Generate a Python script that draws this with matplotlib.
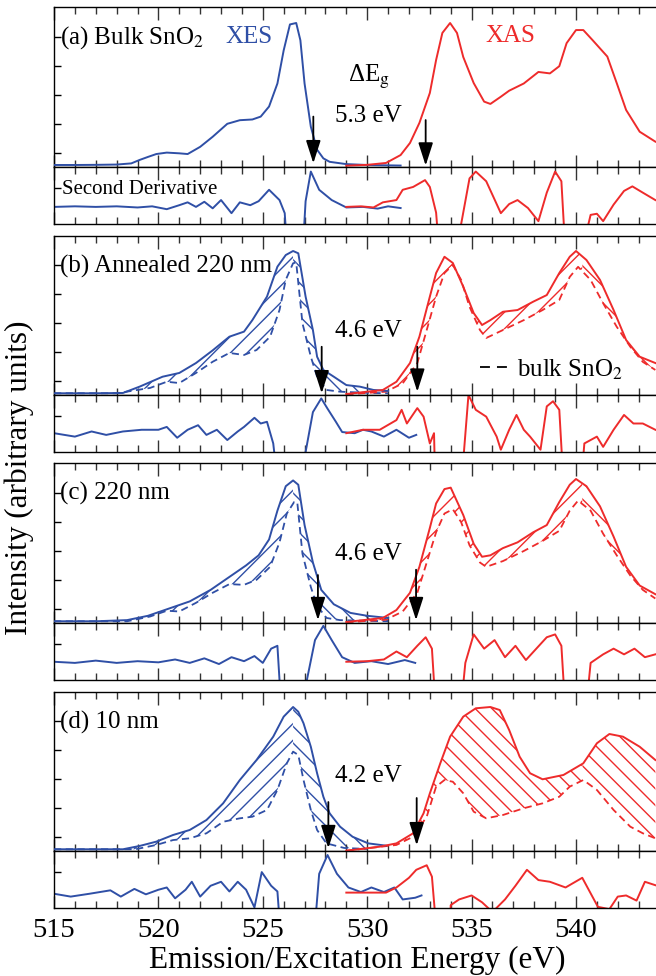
import numpy as np
import matplotlib.pyplot as plt

plt.rcParams['font.family'] = ['Liberation Serif', 'DejaVu Serif']
plt.rcParams['mathtext.fontset'] = 'stix'
plt.rcParams['hatch.linewidth'] = 1.0

BLUE = '#2f4fa6'
RED = '#ee2b2b'

# ---------------- (a) bulk SnO2 ----------------
xes_a_e = [515, 516, 517, 518, 518.7, 519.1, 519.5, 519.9, 520.4, 521.0, 521.4, 522.0, 522.6, 523.3,
           523.9, 524.5, 524.9, 525.3, 525.7, 526.0, 526.3, 526.6, 526.8, 527.0, 527.3, 527.6, 527.9,
           528.2, 529.0, 530.0, 531.6]
xes_a_i = [0.014, 0.014, 0.015, 0.017, 0.025, 0.049, 0.07, 0.09, 0.10, 0.095, 0.09, 0.14, 0.21, 0.30,
           0.325, 0.33, 0.35, 0.42, 0.58, 0.81, 0.99, 1.0, 0.88, 0.58, 0.28, 0.12, 0.06, 0.036, 0.02,
           0.014, 0.01]
xas_a_e = [529.0, 530.0, 530.9, 531.6, 532.05, 532.5, 533.0, 533.3, 533.6, 533.97, 534.3, 534.6, 535.1,
           535.6, 535.9, 536.4, 536.8, 537.5, 538.2, 538.75, 539.2, 539.55, 540.0, 540.35, 540.8, 541.5,
           541.95, 542.4, 543.05, 543.8]
xas_a_i = [0.009, 0.015, 0.028, 0.083, 0.167, 0.306, 0.514, 0.743, 0.931, 1.0, 0.931, 0.764, 0.583, 0.454,
           0.438, 0.488, 0.53, 0.58, 0.66, 0.65, 0.70, 0.86, 0.951, 0.951, 0.88, 0.767, 0.583, 0.396,
           0.245, 0.176]
dxes_a_e = [515, 516, 517, 518, 519, 519.7, 520.4, 521.0, 521.4, 521.8, 522.2, 522.6, 523.0, 523.5, 523.9,
            524.4, 524.8, 525.3, 525.8, 526.05, 526.3, 526.8, 527.05, 527.3, 527.7, 528.3, 529.0, 529.8,
            530.5, 531.0, 531.6]
dxes_a_d = [0.30, 0.31, 0.30, 0.31, 0.29, 0.31, 0.26, 0.33, 0.38, 0.30, 0.39, 0.275, 0.42, 0.19, 0.38,
            0.33, 0.40, 0.60, 0.42, 0.19, -1.2, -1.2, 0.40, 0.92, 0.60, 0.42, 0.29, 0.30, 0.27, 0.31, 0.28]
dxas_a_e = [529.0, 529.7, 530.3, 530.75, 531.4, 531.7, 532.2, 532.77, 533.0, 533.3, 533.6, 534.2, 534.5,
            534.9, 535.2, 535.7, 536.4, 536.8, 537.2, 537.7, 538.2, 538.6, 539.0, 539.3, 539.6, 540.0,
            540.4, 540.7, 541.0, 541.3, 541.8, 542.3, 542.7, 543.2, 543.8]
dxas_a_d = [0.30, 0.31, 0.29, 0.38, 0.42, 0.60, 0.65, 0.77, 0.65, 0.2, -1.2, -1.2, 0.0, 0.80, 0.92, 0.75,
            0.19, 0.35, 0.42, 0.28, 0.05, 0.55, 0.92, 0.75, -1.2, -1.2, -0.3, 0.16, 0.18, 0.05, 0.34,
            0.58, 0.66, 0.55, 0.42]

# ---------------- (b) annealed 220 nm ----------------
xes_b_e = [515, 517, 518.3, 519.1, 520.2, 521.0, 521.8, 522.6, 523.4, 524.1, 524.5, 525.2, 525.7, 526.1,
           526.45, 526.7, 527.05, 527.4, 527.6, 527.9, 528.4, 529.0, 529.65, 530.3, 531.0]
xes_b_i = [0.012, 0.012, 0.014, 0.058, 0.127, 0.153, 0.222, 0.31, 0.405, 0.44, 0.52, 0.683, 0.891, 0.972,
           1.0, 0.984, 0.683, 0.451, 0.266, 0.174, 0.127, 0.069, 0.058, 0.035, 0.028]
xes_b_ref_e = [515, 518, 519.6, 520.4, 521.0, 521.8, 522.6, 523.4, 524.1, 524.7, 525.35, 525.8, 526.1,
               526.45, 526.6, 526.9, 527.3, 527.6, 528.05, 528.7, 530.0, 531.0]
xes_b_ref_i = [0.012, 0.012, 0.049, 0.092, 0.083, 0.153, 0.231, 0.292, 0.278, 0.3125, 0.405, 0.59, 0.80,
               0.915, 0.92, 0.498, 0.266, 0.127, 0.035, 0.023, 0.015, 0.012]
xas_b_e = [529.0, 530.75, 531.4, 532.05, 532.5, 533.0, 533.3, 533.7, 534.1, 534.6, 535.1, 535.5, 535.9,
           536.5, 537.2, 537.95, 538.6, 539.2, 539.7, 540.0, 540.5, 541.15, 541.8, 542.4, 543.05, 543.8]
xas_b_i = [0.007, 0.035, 0.092, 0.222, 0.405, 0.683, 0.847, 0.96, 0.917, 0.752, 0.569, 0.486, 0.52,
           0.578, 0.59, 0.648, 0.694, 0.847, 0.96, 1.0, 0.9375, 0.799, 0.59, 0.382, 0.266, 0.222]
xas_b_ref_e = [529.0, 530.9, 531.7, 532.4, 532.85, 533.3, 533.7, 534.1, 534.5, 534.9, 535.4, 535.7, 536.5,
               537.5, 538.4, 539.2, 539.7, 540.1, 540.7, 541.3, 541.95, 542.6, 543.2, 543.8]
xas_b_ref_i = [0.005, 0.023, 0.081, 0.222, 0.451, 0.683, 0.847, 0.903, 0.799, 0.613, 0.451, 0.396, 0.451,
               0.52, 0.59, 0.66, 0.82, 0.89, 0.799, 0.637, 0.474, 0.335, 0.23, 0.174]
dxes_b_e = [515, 515.5, 516.0, 516.8, 517.5, 518.3, 519.2, 520.0, 520.4, 520.9, 521.4, 521.9, 522.3, 522.8,
            523.3, 523.8, 524.1, 524.6, 524.9, 525.2, 525.5, 525.7, 526.0, 526.6, 526.9, 527.4, 527.8,
            528.1, 528.5, 528.8, 529.4, 529.8, 530.2, 530.8, 531.4, 532.0, 532.35]
dxes_b_d = [0.33, 0.30, 0.27, 0.36, 0.30, 0.36, 0.39, 0.39, 0.44, 0.25, 0.39, 0.47, 0.30, 0.39, 0.21, 0.36,
            0.44, 0.60, 0.50, 0.53, 0.15, -0.5, -1.2, -1.2, -0.3, 0.7, 0.94, 0.76, 0.53, 0.35, 0.33, 0.39,
            0.36, 0.27, 0.39, 0.25, 0.30]
dxas_b_e = [529.0, 529.8, 530.6, 531.4, 531.65, 531.9, 532.4, 532.7, 533.0, 533.2, 533.3, 534.3, 534.6,
            534.85, 535.2, 535.7, 536.2, 536.4, 536.8, 537.15, 537.5, 537.8, 538.3, 538.6, 538.9, 539.2,
            539.5, 540.1, 540.4, 541.0, 541.3, 541.8, 542.3, 542.75, 543.2, 543.8]
dxas_b_d = [0.33, 0.39, 0.39, 0.56, 0.74, 0.50, 0.77, 0.62, 0.15, 0.33, -1.2, -1.2, -0.15, 1.0, 0.74,
            0.62, 0.27, 0.04, 0.39, 0.65, 0.39, 0.27, 0.04, 0.80, 0.89, 0.74, -1.2, -1.2, 0.15, 0.27,
            0.09, 0.39, 0.65, 0.50, 0.50, 0.39]

# ---------------- (c) 220 nm ----------------
xes_c_e = [515, 517, 518.5, 519.5, 520.5, 521.5, 522.5, 523.5, 524.2, 524.8, 525.3, 525.7, 526.1, 526.45,
           526.7, 527.0, 527.4, 527.8, 528.4, 529.2, 530.0, 531.0]
xes_c_i = [0.012, 0.012, 0.02, 0.05, 0.10, 0.15, 0.23, 0.33, 0.40, 0.47, 0.58, 0.78, 0.95, 0.99, 0.96,
           0.68, 0.42, 0.23, 0.13, 0.07, 0.05, 0.035]
xes_c_ref_e = [515, 518.5, 519.6, 520.4, 521.0, 521.8, 522.6, 523.4, 524.1, 524.7, 525.35, 525.8, 526.15,
               526.5, 526.65, 526.9, 527.3, 527.6, 528.05, 528.7, 530.0, 531.0]
xes_c_ref_i = [0.012, 0.012, 0.045, 0.085, 0.08, 0.14, 0.21, 0.27, 0.265, 0.30, 0.39, 0.56, 0.76, 0.84,
               0.84, 0.48, 0.25, 0.12, 0.035, 0.02, 0.015, 0.012]
xas_c_e = [529.0, 530.75, 531.4, 532.05, 532.5, 533.0, 533.3, 533.7, 534.0, 534.6, 535.1, 535.5, 535.9,
           536.5, 537.2, 537.95, 538.6, 539.2, 539.7, 540.0, 540.5, 541.15, 541.8, 542.4, 543.05, 543.8]
xas_c_i = [0.007, 0.035, 0.09, 0.21, 0.39, 0.66, 0.83, 0.93, 0.94, 0.75, 0.55, 0.46, 0.47, 0.52, 0.56,
           0.63, 0.68, 0.84, 0.96, 1.0, 0.95, 0.81, 0.60, 0.39, 0.26, 0.20]
xas_c_ref_e = [529.0, 530.9, 531.7, 532.4, 532.85, 533.3, 533.7, 534.1, 534.5, 534.9, 535.4, 535.7, 536.5,
               537.5, 538.4, 539.2, 539.7, 540.1, 540.7, 541.3, 541.95, 542.6, 543.2, 543.8]
xas_c_ref_i = [0.005, 0.023, 0.08, 0.21, 0.42, 0.63, 0.76, 0.79, 0.70, 0.54, 0.42, 0.39, 0.43, 0.50,
               0.57, 0.64, 0.78, 0.85, 0.78, 0.62, 0.47, 0.33, 0.23, 0.17]
dxes_c_e = [515, 516, 517, 518, 519, 520, 520.8, 521.5, 522.2, 522.9, 523.5, 524.1, 524.6, 525.0, 525.4,
            525.7, 526.0, 526.7, 527.0, 527.5, 527.9, 528.3, 528.8, 529.4, 530.2, 531.0, 531.8, 532.3]
dxes_c_d = [0.32, 0.30, 0.34, 0.30, 0.33, 0.31, 0.36, 0.30, 0.38, 0.28, 0.40, 0.33, 0.42, 0.30, 0.55,
            0.60, -1.2, -1.2, -0.2, 0.70, 0.95, 0.70, 0.40, 0.30, 0.33, 0.28, 0.35, 0.30]
dxas_c_e = [529.0, 530.0, 530.8, 531.4, 531.9, 532.4, 532.8, 533.1, 533.4, 534.3, 534.7, 535.1, 535.6,
            536.1, 536.6, 537.1, 537.6, 538.1, 538.6, 539.0, 539.3, 539.6, 540.3, 540.7, 541.3, 541.8,
            542.3, 542.8, 543.3, 543.8]
dxas_c_d = [0.32, 0.33, 0.36, 0.50, 0.40, 0.60, 0.75, 0.55, -1.2, -1.2, 0.30, 0.80, 0.55, 0.70, 0.40,
            0.60, 0.35, 0.55, 0.75, 0.80, 0.60, -1.2, -1.2, 0.30, 0.45, 0.55, 0.45, 0.55, 0.40, 0.45]

# ---------------- (d) 10 nm ----------------
xes_d_e = [515, 518.3, 519.1, 519.9, 520.7, 521.5, 522.3, 523.1, 523.9, 524.7, 525.5, 526.0, 526.45,
           526.7, 526.95, 527.3, 527.6, 527.9, 528.2, 528.7, 529.3, 530.05, 530.9]
xes_d_i = [0.012, 0.012, 0.035, 0.065, 0.111, 0.146, 0.215, 0.331, 0.493, 0.632, 0.794, 0.933, 1.0,
           0.967, 0.887, 0.724, 0.54, 0.377, 0.262, 0.169, 0.099, 0.053, 0.037]
xes_d_ref_e = [515, 518.9, 519.9, 520.7, 521.5, 522.3, 523.1, 523.9, 524.5, 525.2, 525.7, 526.15, 526.45,
               526.7, 526.95, 527.3, 527.6, 528.05, 528.9, 530.0]
xes_d_ref_i = [0.012, 0.012, 0.042, 0.076, 0.088, 0.123, 0.203, 0.227, 0.238, 0.285, 0.424, 0.609, 0.69,
               0.667, 0.493, 0.285, 0.146, 0.053, 0.021, 0.014]
xas_d_e = [529.0, 530.6, 531.4, 532.2, 532.7, 533.0, 533.5, 533.97, 534.6, 535.2, 535.9, 536.35, 536.8,
           537.3, 537.8, 538.4, 539.4, 540.35, 541.0, 541.6, 542.25, 543.05, 543.8]
xas_d_i = [0.002, 0.03, 0.053, 0.123, 0.262, 0.40, 0.609, 0.794, 0.933, 0.991, 1.0, 0.979, 0.84, 0.655,
           0.54, 0.498, 0.528, 0.609, 0.748, 0.8125, 0.794, 0.724, 0.632]
xas_d_ref_e = [529.0, 531.4, 532.2, 532.85, 533.3, 533.7, 534.1, 534.6, 535.1, 535.7, 536.5, 537.5, 538.4,
               539.2, 539.7, 540.35, 541.0, 541.8, 542.6, 543.2, 543.8]
xas_d_ref_i = [0.002, 0.042, 0.099, 0.238, 0.447, 0.493, 0.481, 0.401, 0.273, 0.227, 0.25, 0.297, 0.331,
               0.377, 0.447, 0.493, 0.424, 0.285, 0.169, 0.123, 0.088]
dxes_d_e = [515, 515.8, 516.7, 517.7, 518.2, 518.85, 519.4, 520.0, 520.4, 520.8, 521.3, 521.6, 522.0,
            522.5, 523.0, 523.4, 523.8, 524.2, 524.6, 524.95, 525.4, 525.7, 526.0, 527.3, 527.7, 528.1,
            528.55, 529.1, 529.7, 530.2, 530.8, 531.3, 531.7, 532.3, 532.6]
dxes_d_d = [0.25, 0.20, 0.25, 0.31, 0.20, 0.335, 0.24, 0.32, 0.36, 0.17, 0.32, 0.46, 0.20, 0.39, 0.46,
            0.29, 0.46, 0.32, 0.01, 0.63, 0.39, 0.29, -1.2, -1.2, 0.60, 0.93, 0.60, 0.36, 0.28, 0.36, 0.28,
            0.36, 0.15, 0.18, 0.22]
dxas_d_e = [529.0, 530.0, 530.9, 531.4, 532.0, 532.35, 532.85, 533.1, 533.5, 533.9, 534.0, 534.4, 535.0,
            535.5, 536.0, 536.6, 537.1, 537.65, 538.2, 538.75, 539.5, 540.3, 541.05, 541.6, 542.0, 542.4,
            542.9, 543.3, 543.8]
dxas_d_d = [0.27, 0.27, 0.27, 0.36, 0.53, 0.67, 0.75, 0.55, -1.2, -1.2, 0.05, 0.15, 0.22, 0.10, -0.07,
            0.15, 0.39, 0.67, 0.49, 0.46, 0.36, 0.53, 0.02, -0.02, 0.20, 0.22, 0.13, 0.46, 0.40]

W, H = 656, 976
fig = plt.figure(figsize=(W / 100, H / 100), dpi=100)


def make_axes(top, bottom):
    # axes placed in pixel rows; right edge runs past the figure border
    ax = fig.add_axes([54 / W, 1 - bottom / H, 626.4 / W, (bottom - top) / H])
    ax.set_xlim(515, 545)
    ax.set_xticks(range(515, 541, 5))
    ax.set_xticks(range(515, 545), minor=True)
    ax.tick_params(axis='x', which='both', direction='in', top=True, bottom=True,
                   labelbottom=False, width=1.0, color='#333333')
    ax.tick_params(axis='x', which='major', length=9)
    ax.tick_params(axis='x', which='minor', length=5)
    ax.tick_params(axis='y', which='both', direction='in', left=True, right=False,
                   labelleft=False, length=5, width=1.0)
    ax.spines['right'].set_visible(False)
    for s in ('left', 'top', 'bottom'):
        ax.spines[s].set_linewidth(1.0)
    return ax


def hatch_between(ax, e_top, i_top, e_low, i_low, split, hatches, color):
    grid = np.linspace(max(e_top[0], e_low[0]), min(e_top[-1], e_low[-1]), 800)
    up = np.interp(grid, e_top, i_top)
    lo = np.interp(grid, e_low, i_low)
    for mask, h in ((grid <= split, hatches[0]), (grid >= split, hatches[1])):
        ax.fill_between(grid, lo, up, where=mask & (up > lo), interpolate=True,
                        facecolor='none', edgecolor=color, hatch=h, linewidth=0, zorder=1)


def arrow(ax, e, y0, y1):
    ax.annotate('', xy=(e, y1), xytext=(e, y0),
                arrowprops=dict(arrowstyle='-|>,head_length=1.4,head_width=0.45', color='black',
                                lw=1.3, shrinkA=0, shrinkB=0, mutation_scale=10), zorder=5)


rows = [(7, 167, 224), (236, 395, 452), (463, 623, 680), (692, 851, 908)]
panels = [
    dict(xes=(xes_a_e, xes_a_i), xas=(xas_a_e, xas_a_i), dxes=(dxes_a_e, dxes_a_d),
         dxas=(dxas_a_e, dxas_a_d), ref=None, label='(a) Bulk SnO$_2$', gap='5.3 eV', gap_y=0.315,
         arrows=[(527.42, 0.35, 0.026), (532.8, 0.326, 0.01)]),
    dict(xes=(xes_b_e, xes_b_i), xas=(xas_b_e, xas_b_i), dxes=(dxes_b_e, dxes_b_d),
         dxas=(dxas_b_e, dxas_b_d), ref=((xes_b_ref_e, xes_b_ref_i), (xas_b_ref_e, xas_b_ref_i)),
         label='(b) Annealed 220 nm', gap='4.6 eV', gap_y=0.405, hatch_red=('//', '\\\\'),
         arrows=[(527.82, 0.335, 0.012), (532.4, 0.335, 0.023)]),
    dict(xes=(xes_c_e, xes_c_i), xas=(xas_c_e, xas_c_i), dxes=(dxes_c_e, dxes_c_d),
         dxas=(dxas_c_e, dxas_c_d), ref=((xes_c_ref_e, xes_c_ref_i), (xas_c_ref_e, xas_c_ref_i)),
         label='(c) 220 nm', gap='4.6 eV', gap_y=0.44, hatch_red=('//', '\\\\'),
         arrows=[(527.64, 0.333, 0.02), (532.34, 0.37, 0.02)]),
    dict(xes=(xes_d_e, xes_d_i), xas=(xas_d_e, xas_d_i), dxes=(dxes_d_e, dxes_d_d),
         dxas=(dxas_d_e, dxas_d_d), ref=((xes_d_ref_e, xes_d_ref_i), (xas_d_ref_e, xas_d_ref_i)),
         label='(d) 10 nm', gap='4.2 eV', gap_y=0.48, hatch_red=('\\\\', '\\\\'),
         arrows=[(528.14, 0.34, 0.02), (532.37, 0.368, 0.04)]),
]

for (top, mid, bot), p in zip(rows, panels):
    ax = make_axes(top, mid)
    ax.set_ylim(0, (mid - top) / 144)
    ax.set_yticks([0.1, 0.3, 0.5, 0.7, 0.9])
    dax = make_axes(mid, bot)
    dax.set_ylim(0, 1)
    dax.set_yticks([0.63])

    ax.plot(*p['xes'], color=BLUE, lw=1.4, zorder=3)
    ax.plot(*p['xas'], color=RED, lw=1.4, zorder=3)
    if p['ref'] is not None:
        (re_x, ri_x), (re_a, ri_a) = p['ref']
        ax.plot(re_x, ri_x, color=BLUE, lw=1.3, ls=(0, (4, 2.5)), zorder=2)
        ax.plot(re_a, ri_a, color=RED, lw=1.3, ls=(0, (4, 2.5)), zorder=2)
        peak_x = p['xes'][0][int(np.argmax(p['xes'][1]))]
        hatch_between(ax, *p['xes'], re_x, ri_x, peak_x, ('//', '\\\\'), BLUE)
        hatch_between(ax, *p['xas'], re_a, ri_a, 540.3, p['hatch_red'], RED)

    dax.plot(*p['dxes'], color=BLUE, lw=1.4)
    dax.plot(*p['dxas'], color=RED, lw=1.4)

    ax.text(515.29, (mid - top - 37) / 144, p['label'], fontsize=18, va='baseline', ha='left')
    ax.text(528.46, p['gap_y'], p['gap'], fontsize=18, va='baseline', ha='left')
    for e, y0, y1 in p['arrows']:
        arrow(ax, e, y0, y1)
    if p is panels[0]:
        ax.text(523.2, 0.86, 'XES', color=BLUE, fontsize=18, va='baseline')
        ax.text(535.64, 0.87, 'XAS', color=RED, fontsize=18, va='baseline')
        ax.text(529.1, 0.59, 'ΔE$_\\mathrm{g}$', fontsize=18, va='baseline')
        dax.text(515.37, 0.53, 'Second Derivative', fontsize=15, va='baseline')
    if p is panels[1]:
        ax.plot([535.4, 536.7], [0.194, 0.194], color='black', lw=1.3, ls=(0, (5.5, 3.9)))
        ax.text(537.16, 0.127, 'bulk SnO$_2$', fontsize=18, va='baseline')
    if p is panels[-1]:
        dax.tick_params(axis='x', which='major', labelbottom=True, labelsize=20.5, pad=7)
        dax.set_xlabel('Emission/Excitation Energy (eV)', fontsize=22.5, labelpad=2)
        dax.xaxis.label.set_x((357 - 54) / 626.4)

fig.text(19 / W, 1 - 478 / H, 'Intensity (arbitrary units)', rotation=90, fontsize=22.5,
         ha='center', va='center')

fig.savefig('out.png', dpi=100)
